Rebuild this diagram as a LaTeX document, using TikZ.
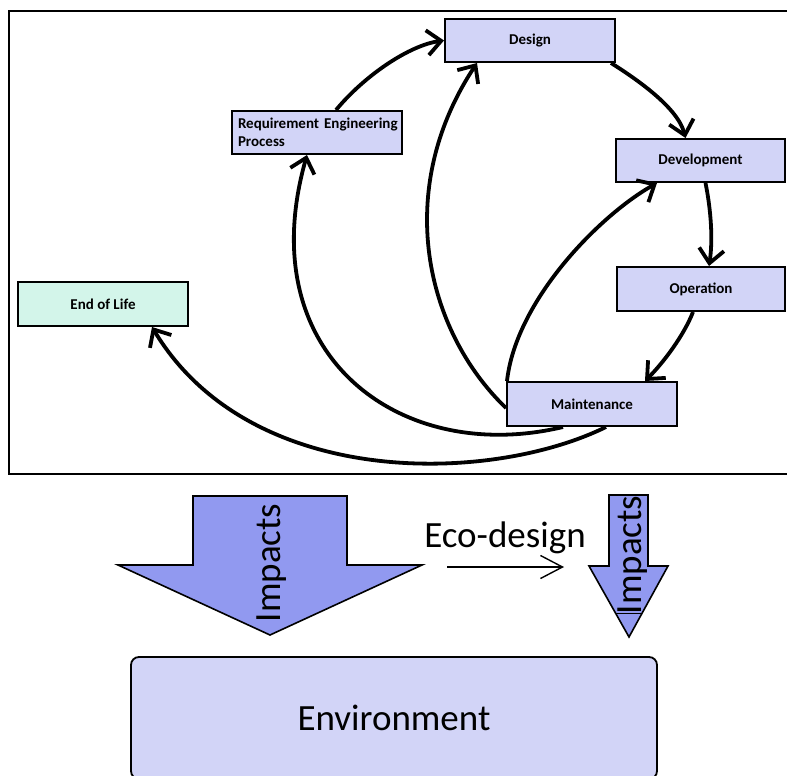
\documentclass[tikz,border=0pt]{standalone}
\usepackage{fontspec}
\setmainfont{Carlito}
\usetikzlibrary{arrows.meta,calc}
\definecolor{boxfill}{HTML}{D2D4F7}
\definecolor{lifefill}{HTML}{D3F5EA}
\definecolor{impactfill}{HTML}{9199F0}
\begin{document}
\begin{tikzpicture}[x=1pt,y=-1pt,
  stage/.style={draw=black, line width=2pt, fill=boxfill, minimum width=170pt,
    minimum height=43pt, inner sep=0pt, font=\bfseries\fontsize{15}{18}\selectfont},
  flow/.style={line width=3.8pt, -{Straight Barb[length=14pt,width=25pt]}},
  bigarrow/.style={draw=black, line width=1.6pt, fill=impactfill, line join=miter},
  bigtext/.style={font=\fontsize{37}{44}\selectfont, inner sep=0pt}
]
\useasboundingbox (0,0) rectangle (787,776);

% frame around the life cycle
\draw[line width=2.8pt] (9,11) rectangle (795,474);

% life-cycle stages
\node[stage] (design) at (530,40.5) {Design};
\node[stage, minimum width=169pt] (devel) at (700.5,160.5) {Development};
\node[stage, align=left, text width=158pt] (req) at (317,132.5) {\mbox{Requirement Engineering}\\Process};
\node[stage, fill=lifefill, minimum height=44pt] (eol) at (103,304) {End of Life};
\node[stage, minimum width=168pt, minimum height=44pt] (oper) at (701,289) {Operation};
\node[stage, minimum height=44pt] (maint) at (592,404) {Maintenance};

% transitions
\draw[flow] ($(req.north)+(19,0)$) .. controls (365,75) and (410,45) .. (design.west);
\draw[flow] ($(design.south east)+(-5,0)$) .. controls (638,80) and (678,108) .. ($(devel.north)+(-15,0)$);
\draw[flow] ($(devel.south)+(5,0)$) .. controls (711,210) and (713,240) .. ($(oper.north)+(8,0)$);
\draw[flow] ($(oper.south)+(-8,0)$) .. controls (684,335) and (664,362) .. ($(maint.north)+(53,0)$);
\draw[flow] ($(maint.north west)+(1,0)$) .. controls (516,300) and (600,215) .. ($(devel.south west)+(42,0)$);
\draw[flow] ($(maint.west)+(0,4)$) .. controls (425,330) and (393,190) .. ($(design.south west)+(33,0)$);
\draw[flow] ($(maint.south)+(-29,0)$) .. controls (400,466) and (250,355) .. ($(req.south)+(-10,0)$);
\draw[flow] ($(maint.south)+(14,0)$) .. controls (490,484) and (250,490) .. ($(eol.south)+(49,0)$);

% impact arrows
\draw[bigarrow] (193,496) -- (347,496) -- (347,565) -- (422,565) -- (270,635) -- (118,565) -- (193,565) -- cycle;
\node[bigtext, rotate=90] (imp1) at (272,563) {Impacts};

\node[bigtext] (eco) at (505,538) {Eco-design};
\coordinate (ecoa) at (447,567);
\coordinate (ecob) at (564,567);
\draw[line width=1.4pt, -{Straight Barb[length=22pt,width=23pt]}] (ecoa) -- (ecob);

\draw[bigarrow] (609,495) -- (648,495) -- (648,566) -- (668,566) -- (629,637) -- (589,566) -- (609,566) -- cycle;
\draw[line width=0.8pt] (615,613) -- (642,613);
\node[bigtext, rotate=90] (imp2) at (633,555) {Impacts};

% environment
\node[draw=black, line width=1.8pt, fill=boxfill, rounded corners=8pt, minimum width=526pt,
  minimum height=122pt, font=\fontsize{37}{44}\selectfont] (env) at (394,718) {Environment};
\end{tikzpicture}
\end{document}
